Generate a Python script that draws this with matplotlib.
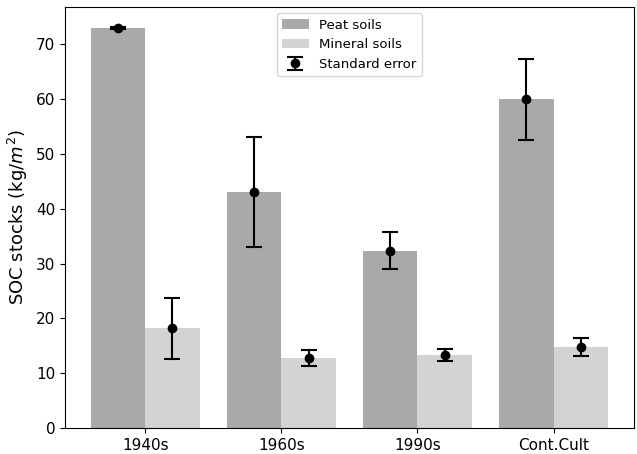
import matplotlib
matplotlib.use("Agg")
import matplotlib.pyplot as plt
import numpy as np

categories = ["1940s", "1960s", "1990s", "Cont.Cult"]
peat = [73.0, 43.1, 32.4, 60.0]
peat_err = [0.2, 10.1, 3.3, 7.4]
mineral = [18.2, 12.8, 13.3, 14.8]
mineral_err = [5.6, 1.4, 1.1, 1.6]

fig = plt.figure(figsize=(6.37, 4.54), dpi=100)
ax = fig.add_axes([0.102, 0.057, 0.893, 0.928])
x = np.arange(len(categories))
w = 0.4
ax.bar(x - w/2, peat, w, color="#a9a9a9", label="Peat soils")
ax.bar(x + w/2, mineral, w, color="#d3d3d3", label="Mineral soils")
eb = ax.errorbar(x - w/2, peat, yerr=peat_err, fmt="o", color="black",
                 ecolor="black", capsize=6, markersize=6, elinewidth=1.5,
                 capthick=1.5, label="Standard error")
ax.errorbar(x + w/2, mineral, yerr=mineral_err, fmt="o", color="black",
            ecolor="black", capsize=6, markersize=6, elinewidth=1.5,
            capthick=1.5)
ax.set_xticks(x)
ax.set_xticklabels(categories, fontsize=11)
ax.tick_params(axis="y", labelsize=11)
ax.set_ylabel("SOC stocks (kg/$m^2$)", fontsize=13)
ax.legend(loc="upper center", fontsize=9.5)
fig.savefig("out.png", dpi=100)
